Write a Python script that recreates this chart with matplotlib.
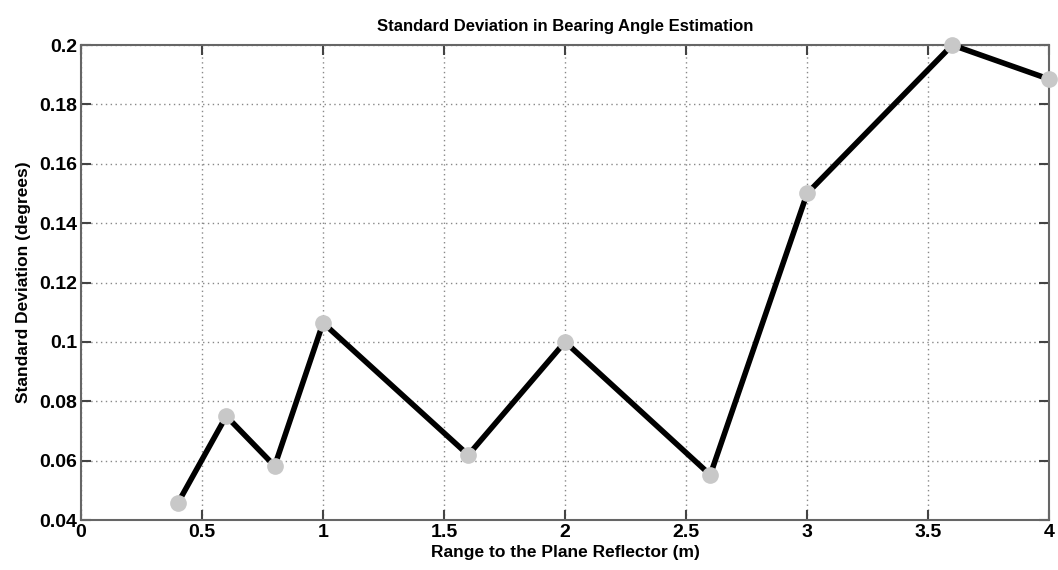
import matplotlib
matplotlib.use("Agg")
import matplotlib.pyplot as plt

ranges = [0.4, 0.6, 0.8, 1.0, 1.6, 2.0, 2.6, 3.0, 3.6, 4.0]
std_dev = [0.0457, 0.075, 0.0582, 0.1064, 0.0619, 0.100, 0.0552, 0.150, 0.200, 0.1885]
xticks = [0, 0.5, 1, 1.5, 2, 2.5, 3, 3.5, 4]
xticklabels = ["0", "0.5", "1", "1.5", "2", "2.5", "3", "3.5", "4"]
yticks = [0.04, 0.06, 0.08, 0.1, 0.12, 0.14, 0.16, 0.18, 0.2]
yticklabels = ["0.04", "0.06", "0.08", "0.1", "0.12", "0.14", "0.16", "0.18", "0.2"]

plt.rcParams['font.family'] = ['Liberation Sans', 'DejaVu Sans']
fig = plt.figure(figsize=(10.58, 5.70), dpi=100)
ax = fig.add_axes([0.0766, 0.0877, 0.915, 0.8333])

ax.plot(ranges, std_dev, color='black', lw=4, zorder=3, solid_capstyle='butt', clip_on=False)
ax.plot(ranges, std_dev, linestyle='none', marker='o', ms=11, mfc='#c8c8c8', mec='#c8c8c8',
        zorder=4, clip_on=False)

ax.set_xlim(0, 4)
ax.set_ylim(0.04, 0.2)
ax.set_xticks(xticks)
ax.set_xticklabels(xticklabels, fontsize=14, fontweight='bold')
ax.set_yticks(yticks)
ax.set_yticklabels(yticklabels, fontsize=14, fontweight='bold')
ax.tick_params(direction='in', top=True, right=True, length=7, width=1.5, color='#444444', pad=3)
ax.grid(True, linestyle=(0, (1, 2.5)), color='#888888', lw=1)
for s in ax.spines.values():
    s.set_color('#666666')
    s.set_linewidth(1.5)

ax.set_title("Standard Deviation in Bearing Angle Estimation", fontsize=12, fontweight='bold', pad=10)
ax.set_xlabel("Range to the Plane Reflector (m)", fontsize=12.5, fontweight='bold', labelpad=3)
ax.set_ylabel("Standard Deviation (degrees)", fontsize=12.5, fontweight='bold', labelpad=6)

fig.savefig("out.png", dpi=100)
